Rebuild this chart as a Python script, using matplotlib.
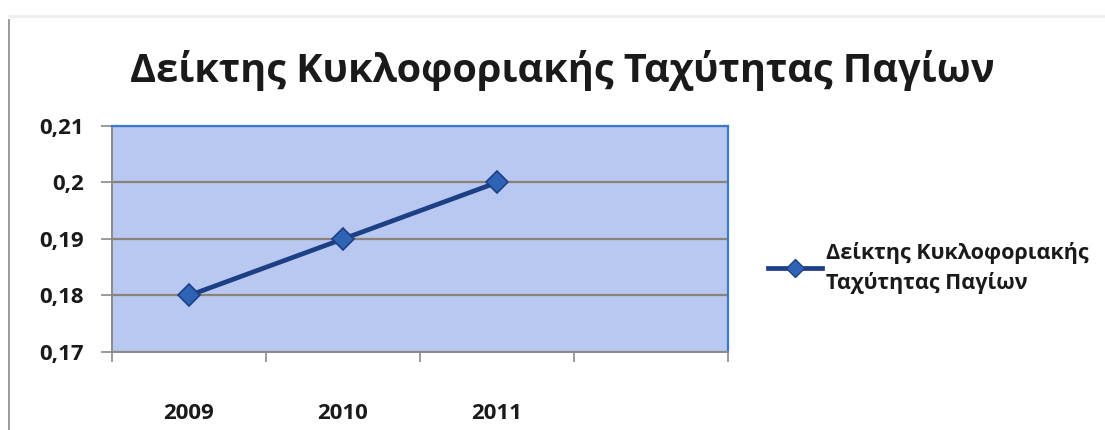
import matplotlib
matplotlib.use("Agg")
import matplotlib.pyplot as plt
from matplotlib.lines import Line2D

# Data
title = "Δείκτης Κυκλοφοριακής Ταχύτητας Παγίων"
series_name = "Δείκτης Κυκλοφοριακής\nΤαχύτητας Παγίων"
years = ["2009", "2010", "2011"]
values = [0.18, 0.19, 0.20]
y_ticks = [0.17, 0.18, 0.19, 0.20, 0.21]
y_tick_labels = ["0,17", "0,18", "0,19", "0,2", "0,21"]
n_slots = 4

plt.rcParams['font.family'] = ['Open Sans', 'DejaVu Sans']

W, H = 1105, 430
fig = plt.figure(figsize=(W / 100, H / 100), dpi=100)
fig.patch.set_facecolor("white")

L, R, T, B = 112, 728, 126, 352
ax = fig.add_axes([L / W, (H - B) / H, (R - L) / W, (B - T) / H])
ax.set_facecolor("#b8c8f0")

xs = [i + 0.5 for i in range(len(years))]
ax.plot(xs, values, color="#1c3f86", linewidth=3.4, marker="D", markersize=11,
        markerfacecolor="#2e63b5", markeredgecolor="#1c3f86", markeredgewidth=1.2,
        zorder=5, label=series_name)

ax.set_xlim(0, n_slots)
ax.set_ylim(y_ticks[0], y_ticks[-1])
ax.set_yticks(y_ticks)
ax.set_yticklabels(y_tick_labels, fontsize=16, fontweight="bold", color="#1a1a1a")
ax.set_xticks(range(n_slots + 1))
ax.set_xticklabels([])
ax.set_xticks(xs, minor=True)
ax.set_xticklabels(years, minor=True, fontsize=16, fontweight="bold", color="#1a1a1a")
ax.tick_params(axis="x", which="minor", length=0, pad=37)
ax.tick_params(axis="x", which="major", length=7, width=1.2, color="#8a8a8a", direction="out")
ax.tick_params(axis="y", length=8, width=1.2, color="#8a8a8a", pad=12)
ax.yaxis.grid(True, color="#8c8278", linewidth=1.6)
ax.set_axisbelow(True)

for s in ("left", "bottom"):
    ax.spines[s].set_color("#8a8a8a")
    ax.spines[s].set_linewidth(1.4)
for s in ("top", "right"):
    ax.spines[s].set_color("#3c78d0")
    ax.spines[s].set_linewidth(1.6)

fig.text(562 / W, 1 - 70 / H, title, ha="center", va="center",
         fontsize=28.5, fontweight="bold", color="#1a1a1a")

# Legend
leg = fig.legend(handles=[Line2D([0], [0], color="#1c3f86", linewidth=3.4, marker="D",
                                 markersize=9, markerfacecolor="#2e63b5",
                                 markeredgecolor="#1c3f86")],
                 labels=[series_name], loc="center left",
                 bbox_to_anchor=(749 / W, 1 - 268 / H), frameon=False,
                 handlelength=2.5, handletextpad=0.2, labelspacing=0.6,
                 prop={"size": 15.5, "weight": "bold"})
for t in leg.get_texts():
    t.set_color("#1a1a1a")
    t.set_linespacing(1.45)

# Frame line on left edge
fig.add_artist(Line2D([9 / W, 9 / W], [0, 1 - 20 / H], color="#9a9a9a", linewidth=1.4))
fig.add_artist(Line2D([9 / W, 1], [1 - 16 / H, 1 - 16 / H], color="#eeeeee", linewidth=2))

fig.savefig("out.png", dpi=100)
